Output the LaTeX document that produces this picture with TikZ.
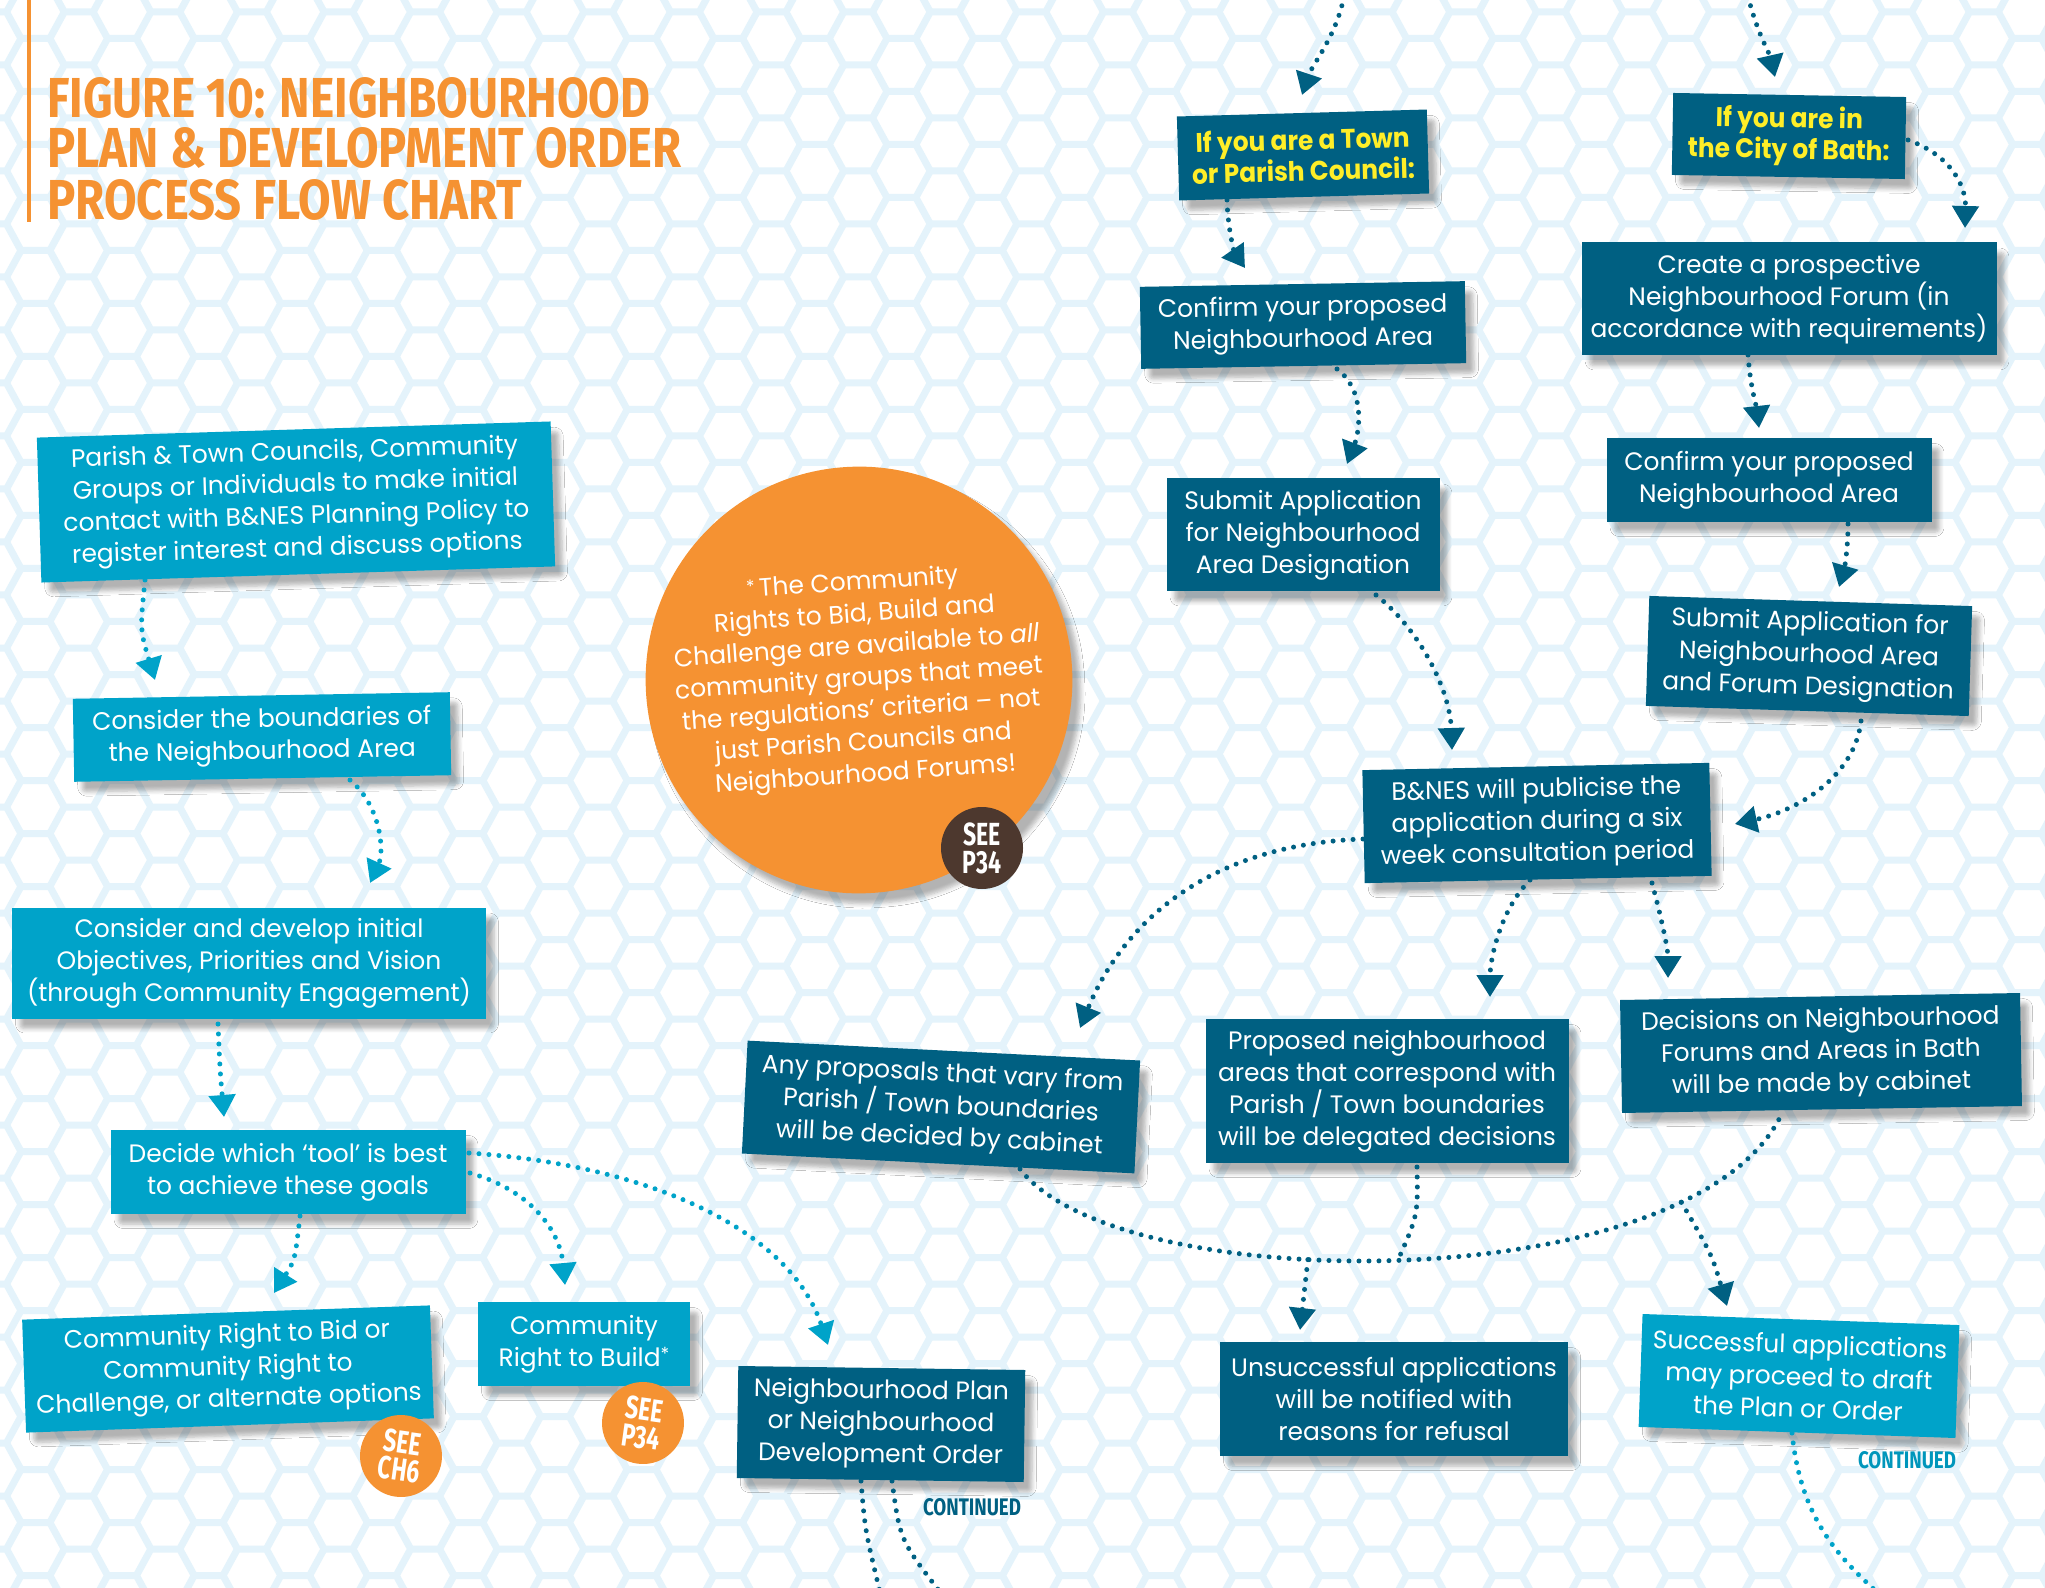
\documentclass[tikz,border=0pt]{standalone}
\usepackage{graphicx}
\usepackage{fontspec}
\setmainfont{Poppins}
\newfontfamily\boxfont[FakeStretch=0.99]{Poppins}
\newfontfamily\yfont[FakeStretch=0.92]{Poppins}
\newfontfamily\condfont[FakeStretch=0.72]{Fira Sans}
\usetikzlibrary{arrows.meta,calc,shadows.blur}
\definecolor{dkteal}{RGB}{0,96,130}
\definecolor{ltcyan}{RGB}{0,163,201}
\definecolor{orng}{RGB}{245,146,50}
\definecolor{brwn}{RGB}{77,56,46}
\definecolor{yllw}{RGB}{255,238,40}
\definecolor{hexc}{RGB}{228,243,251}
\tikzset{
  softshadow/.style={blur shadow={shadow xshift=4pt, shadow yshift=-5pt, shadow blur steps=6, shadow blur extra rounding=2pt, shadow opacity=30}},
  basebox/.style={rectangle, inner sep=0pt, align=center, text=white, font=\boxfont\fontsize{12.6}{16}\selectfont, softshadow},
  dbox/.style={basebox, fill=dkteal},
  lbox/.style={basebox, fill=ltcyan},
  ybox/.style={basebox, fill=dkteal, text=yllw, font=\yfont\bfseries\fontsize{13.5}{15.5}\selectfont},
  wh/.style 2 args={minimum width=#1*0.5pt, minimum height=#2*0.5pt},
  badge/.style={circle, inner sep=0pt, minimum size=41pt, text=white, align=center, font=\condfont\bfseries\fontsize{16}{14}\selectfont},
  conn/.style={draw=dkteal, line width=2.5pt, line cap=round, dash pattern=on 0pt off 5pt, -{Triangle[length=11pt,width=13pt]}},
  lconn/.style={conn, draw=ltcyan},
  plainconn/.style={draw=dkteal, line width=2.5pt, line cap=round, dash pattern=on 0pt off 5pt},
  hexline/.style={draw=hexc, line width=3.5pt, line join=round}
}
\begin{document}
\begin{tikzpicture}[x=0.5pt, y=-0.5pt]
\useasboundingbox (0,0) rectangle (2045,1588);
\fill[white] (0,0) rectangle (2045,1588);
% honeycomb background
\begin{scope}
\clip (0,0) rectangle (2045,1588);
\draw[hexline] foreach \i [evaluate=\i as \cx using {555+43.3*\i}, evaluate=\i as \off using {26.5*Mod(\i,2)}] in {-13,...,35} {
  foreach \j [evaluate=\j as \cy using {277+53*\j+\off}] in {-6,...,25} {
    ({\cx+28.9},{\cy}) -- ++(-14.45,26.5) -- ++(-28.9,0) -- ++(-14.45,-26.5) -- ++(14.45,-26.5) -- ++(28.9,0) -- cycle
  }
};
\end{scope}

% title
\draw[orng, line width=1.6pt] (29,0) -- (29,222);
\node[anchor=base west, inner sep=0pt, text=orng] (t1) at (47,118) {\resizebox{301.5pt}{20pt}{\condfont\bfseries FIGURE 10: NEIGHBOURHOOD}};
\node[anchor=base west, inner sep=0pt, text=orng] (t2) at (47,168) {\resizebox{317pt}{20pt}{\condfont\bfseries PLAN \& DEVELOPMENT ORDER}};
\node[anchor=base west, inner sep=0pt, text=orng] (t3) at (47,220) {\resizebox{237.5pt}{20pt}{\condfont\bfseries PROCESS FLOW CHART}};

% big orange circle
\node[circle, fill=orng, minimum size=207pt, inner sep=0pt, softshadow, rotate=4, align=center, text=white,
  font=\boxfont\fontsize{12.6}{16}\selectfont] (BC) at (859,680)
  {\raisebox{2pt}{\small *}\,The Community\\Rights to Bid, Build and\\Challenge are available to \textit{all}\\community groups that meet\\the regulations’ criteria – not\\just Parish Councils and\\Neighbourhood Forums!};
\node[badge, fill=brwn] (B3) at (982,848) {SEE\\P34};

% left column
\node[lbox, wh={514}{145}, rotate=1.8] (P1) at (296,502) {Parish \& Town Councils, Community\\Groups or Individuals to make initial\\contact with B\&NES Planning Policy to\\register interest and discuss options};
\node[lbox, wh={377}{83}, rotate=1] (P2) at (262,737) {Consider the boundaries of\\the Neighbourhood Area};
\node[lbox, wh={474}{111}] (P3) at (249,963) {Consider and develop initial\\Objectives, Priorities and Vision\\(through Community Engagement)};
\node[lbox, wh={355}{84}] (P4) at (288,1172) {Decide which ‘tool’ is best\\to achieve these goals};
\node[lbox, wh={408}{113}, rotate=2] (P5) at (228,1369) {Community Right to Bid or\\Community Right to\\Challenge, or alternate options};
\node[lbox, wh={212}{84}] (P6) at (584,1344) {Community\\Right to Build\raisebox{3pt}{\small *}};
\node[badge, fill=orng, rotate=-8] (B1) at (401,1456) {SEE\\CH6};
\node[badge, fill=orng, rotate=-8] (B2) at (643,1423) {SEE\\P34};
\node[dbox, wh={287}{112}, rotate=-0.8] (NP) at (881,1424) {Neighbourhood Plan\\or Neighbourhood\\Development Order};
\node[anchor=base, inner sep=0pt, text=dkteal] (K1) at (972,1515) {\resizebox{49pt}{8.5pt}{\condfont\bfseries CONTINUED}};

% right part
\node[ybox, wh={250}{84}, rotate=1.6] (T) at (1303,155) {If you are a Town\\or Parish Council:};
\node[ybox, wh={233}{82}, rotate=-1] (C) at (1789,136) {If you are in\\the City of Bath:};
\node[dbox, wh={325}{82}, rotate=1] (CL) at (1303,325) {Confirm your proposed\\Neighbourhood Area};
\node[dbox, wh={415}{113}] (CF) at (1789,299) {Create a prospective\\Neighbourhood Forum (in\\accordance with requirements)};
\node[dbox, wh={325}{84}] (CR) at (1769,480) {Confirm your proposed\\Neighbourhood Area};
\node[dbox, wh={273}{113}] (SL) at (1303,535) {Submit Application\\for Neighbourhood\\Area Designation};
\node[dbox, wh={323}{110}, rotate=-1.8] (SR) at (1809,656) {Submit Application for\\Neighbourhood Area\\and Forum Designation};
\node[dbox, wh={347}{113}, rotate=1.2] (BN) at (1537,823) {B\&NES will publicise the\\application during a six\\week consultation period};
\node[dbox, wh={393}{113}, rotate=-2.9] (AP) at (941,1107) {Any proposals that vary from\\Parish / Town boundaries\\will be decided by cabinet};
\node[dbox, wh={363}{144}] (PR) at (1387,1091) {Proposed neighbourhood\\areas that correspond with\\Parish / Town boundaries\\will be delegated decisions};
\node[dbox, wh={400}{113}, rotate=1] (DE) at (1821,1053) {Decisions on Neighbourhood\\Forums and Areas in Bath\\will be made by cabinet};
\node[dbox, wh={348}{114}] (UN) at (1394,1399) {Unsuccessful applications\\will be notified with\\reasons for refusal};
\node[lbox, wh={317}{113}, rotate=-2] (SU) at (1799,1376) {Successful applications\\may proceed to draft\\the Plan or Order};
\node[anchor=base, inner sep=0pt, text=ltcyan!80!dkteal] (K2) at (1907,1468) {\resizebox{49pt}{8.5pt}{\condfont\bfseries CONTINUED}};

% free ends
\coordinate (topA) at (1344,-4);
\coordinate (topB) at (1748,-4);
\coordinate (botA) at (880,1592);
\coordinate (botB) at (940,1592);
\coordinate (botC) at (1877,1592);

% connectors: right part
\draw[conn] (topA) .. controls (1337,35) and (1312,65) .. ($(T)+(-1,-60)$);
\draw[conn] (topB) .. controls (1756,30) and (1770,55) .. ($(C)+(-14,-59)$);
\draw[conn] ($(T)+(-76,45)$) .. controls (1228,235) and (1236,255) .. ($(CL)+(-58,-57)$);
\draw[conn] ($(C)+(119,4)$) .. controls (1950,155) and (1966,185) .. ($(CF)+(176,-71)$);
\draw[conn] ($(CL)+(34,44)$) .. controls (1365,390) and (1360,430) .. ($(SL)+(44,-71)$);
\draw[conn] ($(CF)+(-41,56)$) .. controls (1750,385) and (1757,410) .. ($(CR)+(-10,-52)$);
\draw[conn] ($(CR)+(79,44)$) .. controls (1848,550) and (1844,570) .. ($(SR)+(30,-69)$);
\draw[conn] ($(SL)+(73,60)$) .. controls (1420,630) and (1450,690) .. ($(BN)+(-85,-73)$);
\draw[conn] ($(SR)+(52,65)$) .. controls (1855,775) and (1800,810) .. ($(BN)+(198,1)$);
\draw[conn] ($(BN)+(-174,16)$) .. controls (1200,845) and (1120,930) .. ($(AP)+(139,-79)$);
\draw[conn] ($(BN)+(-7,57)$) .. controls (1500,910) and (1490,960) .. ($(PR)+(103,-94)$);
\draw[conn] ($(BN)+(115,60)$) .. controls (1662,920) and (1668,950) .. ($(DE)+(-153,-75)$);
\draw[plainconn] ($(AP)+(79,62)$) .. controls (1120,1300) and (1700,1300) .. ($(DE)+(-38,58)$)
  coordinate[pos=0.4] (mA) coordinate[pos=0.49] (mB) coordinate[pos=0.8] (mC);
\draw[plainconn] ($(PR)+(30,76)$) .. controls (1418,1215) .. (mB);
\draw[conn] (mA) -- ($(UN)+(-94,-69)$);
\draw[conn] (mC) .. controls (1712,1255) .. ($(SU)+(-72,-70)$);
\draw[plainconn] ($(NP)+(-20,57)$) .. controls (865,1530) .. (botA);
\draw[plainconn] ($(NP)+(11,57)$) .. controls (900,1540) .. (botB);
\draw[plainconn, draw=ltcyan] ($(SU)+(-7,57)$) .. controls (1800,1510) and (1830,1550) .. (botC);

% connectors: left part
\draw[lconn] ($(P1)+(-151,78)$) .. controls (140,630) .. ($(P2)+(-107,-57)$);
\draw[lconn] ($(P2)+(88,43)$) .. controls (380,805) and (385,850) .. ($(P3)+(121,-80)$);
\draw[lconn] ($(P3)+(-31,61)$) .. controls (220,1070) .. ($(P4)+(-64,-55)$);
\draw[lconn] ($(P4)+(12,44)$) .. controls (295,1260) .. ($(P5)+(46,-76)$);
\draw[lconn] ($(P4)+(182,1)$) .. controls (530,1190) and (560,1230) .. ($(P6)+(-19,-59)$);
\draw[lconn] ($(P4)+(181,-19)$) .. controls (650,1165) and (790,1230) .. ($(NP)+(-53,-79)$);
\end{tikzpicture}
\end{document}
